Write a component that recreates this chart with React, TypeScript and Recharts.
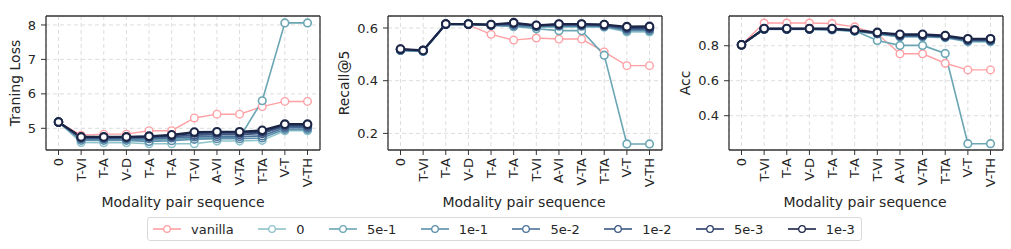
import React from 'react'
import { LineChart, Line, XAxis, YAxis, CartesianGrid } from 'recharts'

const seqLabels = ['0', 'T-VI', 'T-A', 'V-D', 'T-A', 'T-A', 'T-VI', 'A-VI', 'V-TA', 'T-TA', 'V-T', 'V-TH']
const seriesNames = ['vanilla', '0', '5e-1', '1e-1', '5e-2', '1e-2', '5e-3', '1e-3']
const seriesColors = ['#ffa0a4', '#8fc3ca', '#6aa6b4', '#5b8fab', '#4c739a', '#3b5783', '#2b3d69', '#1b2546']

// Training loss
const lossVanilla = [5.18, 4.80, 4.83, 4.83, 4.93, 4.93, 5.30, 5.41, 5.41, 5.63, 5.78, 5.78]
const loss0 = [5.18, 4.59, 4.58, 4.58, 4.55, 4.55, 4.55, 4.63, 4.63, 4.65, 4.93, 4.93]
const loss5e1 = [5.18, 4.68, 4.68, 4.68, 4.66, 4.68, 4.70, 4.72, 4.73, 5.80, 8.06, 8.06]
const loss1e1 = [5.18, 4.65, 4.65, 4.65, 4.62, 4.64, 4.68, 4.70, 4.70, 4.72, 4.97, 4.97]
const loss5e2 = [5.18, 4.70, 4.70, 4.70, 4.70, 4.72, 4.75, 4.76, 4.76, 4.78, 5.02, 5.02]
const loss1e2 = [5.18, 4.72, 4.72, 4.72, 4.74, 4.76, 4.80, 4.82, 4.82, 4.85, 5.06, 5.06]
const loss5e3 = [5.18, 4.74, 4.74, 4.74, 4.76, 4.79, 4.86, 4.87, 4.87, 4.90, 5.10, 5.10]
const loss1e3 = [5.18, 4.75, 4.75, 4.75, 4.77, 4.81, 4.89, 4.90, 4.90, 4.94, 5.12, 5.12]

// Recall@5
const recVanilla = [0.520, 0.515, 0.615, 0.612, 0.576, 0.554, 0.562, 0.558, 0.558, 0.509, 0.457, 0.457]
const rec0 = [0.515, 0.512, 0.613, 0.613, 0.610, 0.605, 0.603, 0.603, 0.603, 0.603, 0.585, 0.585]
const rec5e1 = [0.515, 0.512, 0.615, 0.615, 0.612, 0.607, 0.597, 0.590, 0.590, 0.497, 0.160, 0.160]
const rec1e1 = [0.515, 0.512, 0.613, 0.613, 0.610, 0.608, 0.605, 0.607, 0.607, 0.606, 0.590, 0.590]
const rec5e2 = [0.517, 0.513, 0.614, 0.614, 0.611, 0.612, 0.607, 0.610, 0.610, 0.608, 0.595, 0.595]
const rec1e2 = [0.518, 0.514, 0.614, 0.614, 0.612, 0.615, 0.608, 0.612, 0.612, 0.610, 0.598, 0.598]
const rec5e3 = [0.519, 0.515, 0.615, 0.615, 0.612, 0.618, 0.609, 0.614, 0.614, 0.612, 0.602, 0.602]
const rec1e3 = [0.520, 0.515, 0.615, 0.615, 0.613, 0.620, 0.610, 0.615, 0.615, 0.613, 0.605, 0.606]

// Acc
const accVanilla = [0.805, 0.930, 0.930, 0.930, 0.927, 0.908, 0.868, 0.754, 0.754, 0.700, 0.662, 0.662]
const acc0 = [0.805, 0.893, 0.893, 0.893, 0.890, 0.882, 0.865, 0.850, 0.850, 0.845, 0.822, 0.822]
const acc5e1 = [0.805, 0.895, 0.895, 0.895, 0.893, 0.885, 0.830, 0.802, 0.802, 0.756, 0.240, 0.240]
const acc1e1 = [0.805, 0.894, 0.894, 0.894, 0.892, 0.884, 0.868, 0.853, 0.853, 0.848, 0.826, 0.826]
const acc5e2 = [0.805, 0.895, 0.895, 0.895, 0.894, 0.886, 0.870, 0.856, 0.856, 0.851, 0.830, 0.830]
const acc1e2 = [0.805, 0.896, 0.896, 0.896, 0.895, 0.887, 0.872, 0.859, 0.859, 0.853, 0.833, 0.833]
const acc5e3 = [0.805, 0.897, 0.897, 0.897, 0.896, 0.888, 0.874, 0.862, 0.862, 0.855, 0.836, 0.836]
const acc1e3 = [0.805, 0.898, 0.898, 0.898, 0.898, 0.890, 0.876, 0.865, 0.865, 0.858, 0.840, 0.840]

const lossTicks = [5, 6, 7, 8]
const recTicks = [0.2, 0.4, 0.6]
const accTicks = [0.4, 0.6, 0.8]

const FONT = '"DejaVu Sans", sans-serif'
const TEXT = '#262626'
const AXIS = '#333'

function buildRows(cols: number[][]) {
  return seqLabels.map((_, i) => {
    const row: any = { idx: i }
    seriesNames.forEach((n, k) => { row[n] = cols[k][i] })
    return row
  })
}

const lossRows = buildRows([lossVanilla, loss0, loss5e1, loss1e1, loss5e2, loss1e2, loss5e3, loss1e3])
const recRows = buildRows([recVanilla, rec0, rec5e1, rec1e1, rec5e2, rec1e2, rec5e3, rec1e3])
const accRows = buildRows([accVanilla, acc0, acc5e1, acc1e1, acc5e2, acc1e2, acc5e3, acc1e3])

const XTick = ({ x, y, payload }: any) => (
  <text
    x={x} y={y}
    transform={`rotate(-90 ${x} ${y})`}
    textAnchor="end"
    dominantBaseline="central"
    fontSize={13}
    fontFamily={FONT}
    fill={TEXT}
  >
    {seqLabels[payload.value]}
  </text>
)

const lineWidths = [1.4, 1.5, 1.6, 1.6, 1.7, 1.8, 1.9, 2.1]

function Panel({ left, rows, domain, ticks, fmt }: any) {
  return (
    <div style={{ position: 'absolute', left, top: 0 }}>
      <LineChart width={330} height={215} data={rows} margin={{ top: 15, right: 9, bottom: 0, left: 0 }}>
        <CartesianGrid stroke="#dddddd" strokeDasharray="4 3" />
        <XAxis
          dataKey="idx"
          type="category"
          interval={0}
          padding={{ left: 12.5, right: 12.5 }}
          tick={<XTick />}
          tickSize={5}
          tickMargin={3}
          tickLine={{ stroke: AXIS }}
          axisLine={{ stroke: AXIS, strokeWidth: 1.3 }}
          height={65}
        />
        <XAxis xAxisId="top" dataKey="idx" orientation="top" height={1} tick={false} tickLine={false}
          axisLine={{ stroke: AXIS, strokeWidth: 1.3 }} padding={{ left: 12.5, right: 12.5 }} />
        <YAxis
          domain={domain}
          ticks={ticks}
          allowDataOverflow
          width={46}
          tickFormatter={fmt}
          tickSize={5}
          tickMargin={5}
          tick={{ fill: TEXT, fontSize: 13, fontFamily: FONT }}
          tickLine={{ stroke: AXIS }}
          axisLine={{ stroke: AXIS, strokeWidth: 1.3 }}
        />
        <YAxis yAxisId="right" orientation="right" width={1} domain={domain} tick={false} tickLine={false}
          axisLine={{ stroke: AXIS, strokeWidth: 1.3 }} />
        {seriesNames.map((n, k) => (
          <Line
            key={n}
            dataKey={n}
            type="linear"
            stroke={seriesColors[k]}
            strokeWidth={lineWidths[k]}
            dot={{ r: 3.8, fill: '#fff', stroke: seriesColors[k], strokeWidth: lineWidths[k] }}
            activeDot={false}
            isAnimationActive={false}
          />
        ))}
      </LineChart>
    </div>
  )
}

const labelStyle: React.CSSProperties = {
  position: 'absolute',
  fontFamily: FONT,
  fontSize: 14,
  color: TEXT,
  whiteSpace: 'nowrap',
  lineHeight: 1,
}

function YLabel({ x, text }: { x: number; text: string }) {
  return (
    <div style={{ ...labelStyle, left: x, top: 83, transform: 'translate(-50%, -50%) rotate(-90deg)' }}>{text}</div>
  )
}

function XLabel({ x }: { x: number }) {
  return (
    <div style={{ ...labelStyle, left: x, top: 202, transform: 'translate(-50%, -50%)' }}>Modality pair sequence</div>
  )
}

function Legend() {
  return (
    <div style={{
      position: 'absolute', left: 147, top: 217, width: 708, height: 22,
      border: '1px solid #d9d9d9', borderRadius: 3, display: 'flex', alignItems: 'center',
      paddingLeft: 5, fontFamily: FONT, fontSize: 13, color: TEXT, whiteSpace: 'nowrap',
    }}>
      {seriesNames.map((n, k) => (
        <div key={n} style={{ display: 'flex', alignItems: 'center', marginRight: 24.5, flexShrink: 0 }}>
          <svg width={28} height={10}>
            <line x1={0} y1={5} x2={28} y2={5} stroke={seriesColors[k]} strokeWidth={1.6} />
            <circle cx={14} cy={5} r={3.3} fill="#fff" stroke={seriesColors[k]} strokeWidth={1.3} />
          </svg>
          <span style={{ marginLeft: 10 }}>{n}</span>
        </div>
      ))}
    </div>
  )
}

export default function App() {
  return (
    <div style={{ position: 'absolute', left: 0, top: 0, width: 1011, height: 249, background: '#fff', overflow: 'hidden' }}>
      <Panel left={0} rows={lossRows} domain={[4.37, 8.26]} ticks={lossTicks} fmt={(v: number) => String(v)} />
      <Panel left={341.5} rows={recRows} domain={[0.137, 0.6455]} ticks={recTicks} fmt={(v: number) => v.toFixed(1)} />
      <Panel left={682.5} rows={accRows} domain={[0.204, 0.97]} ticks={accTicks} fmt={(v: number) => v.toFixed(1)} />
      <YLabel x={15} text="Traning Loss" />
      <YLabel x={344} text="Recall@5" />
      <YLabel x={685} text="Acc" />
      <XLabel x={183} />
      <XLabel x={524} />
      <XLabel x={865} />
      <Legend />
    </div>
  )
}
